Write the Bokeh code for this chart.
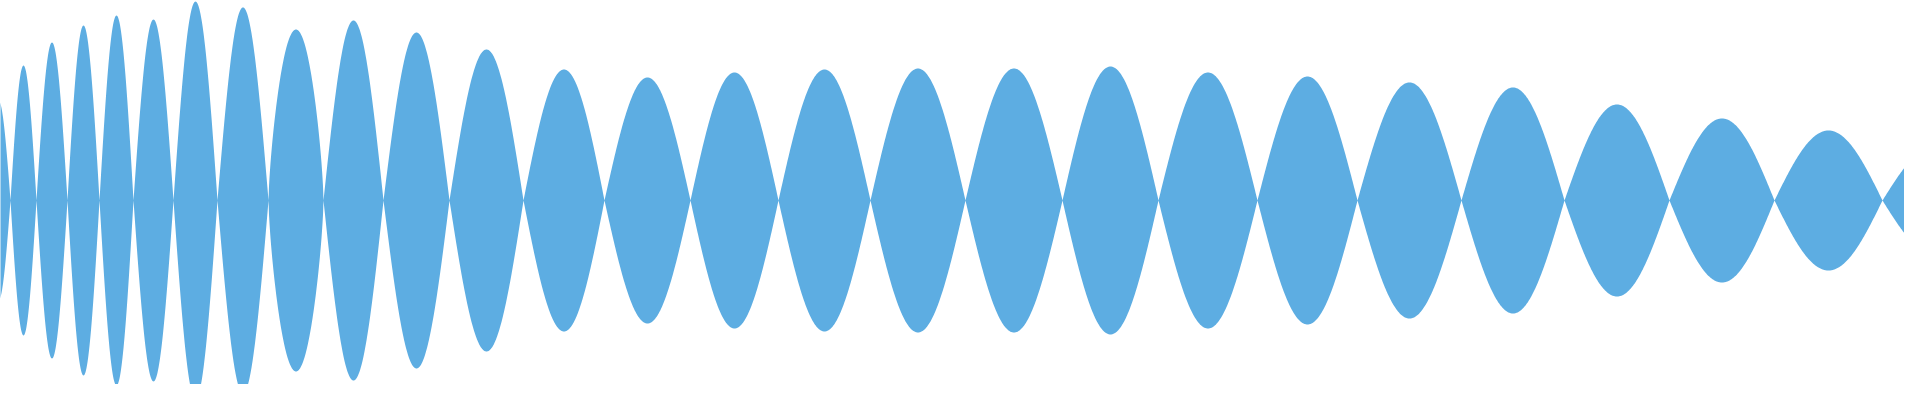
import numpy as np
from bokeh.plotting import figure
from bokeh.embed import file_html
from bokeh.resources import INLINE
from bokeh.models import Range1d

# Zero crossings of the waveform (x, in chart units)
crossings = [-14, 10, 36, 67, 99, 133, 173, 217, 268, 323, 383, 449, 523, 604,
             690, 778, 870, 965, 1062, 1158, 1257, 1357, 1461, 1564, 1669, 1774,
             1882, 1990]
# Peak amplitude of each lobe between consecutive crossings
amplitudes = [100, 135, 158, 175, 185, 181, 199, 193, 171, 180, 168, 151, 131,
              123, 128, 131, 132, 132, 134, 128, 124, 118, 113, 96, 82, 70, 55]
# Lobe fullness (1 = plain arc; <1 = flatter top)
fullness = [1, 1, 1, 1, 1, 1, 1, 1, 0.7, 1, 1, 1, 1, 1, 1, 1, 1, 1, 1, 1, 1,
            1, 1, 1, 1, 1, 1]

xs, ys = [], []
for i, a in enumerate(amplitudes):
    x0, x1 = crossings[i], crossings[i + 1]
    n = max(int((x1 - x0) * 2), 8)
    u = np.linspace(0, 1, n, endpoint=False)
    xs.append(x0 + u * (x1 - x0))
    ys.append(a * np.sin(np.pi * u) ** fullness[i])
xs.append(np.array([crossings[-1]]))
ys.append(np.array([0.0]))
x = np.concatenate(xs)
y = np.concatenate(ys)

p = figure(width=1904, height=384, output_backend="svg", toolbar_location=None,
           min_border=0, x_range=Range1d(0, 1904), y_range=Range1d(-184, 200))
p.varea(x=x, y1=y, y2=-y, fill_color="#5DADE2", fill_alpha=1.0)
p.axis.visible = False
p.grid.visible = False
p.outline_line_color = None
p.background_fill_color = "white"
p.border_fill_color = "white"

open("out.html", "w").write(file_html(p, INLINE))
